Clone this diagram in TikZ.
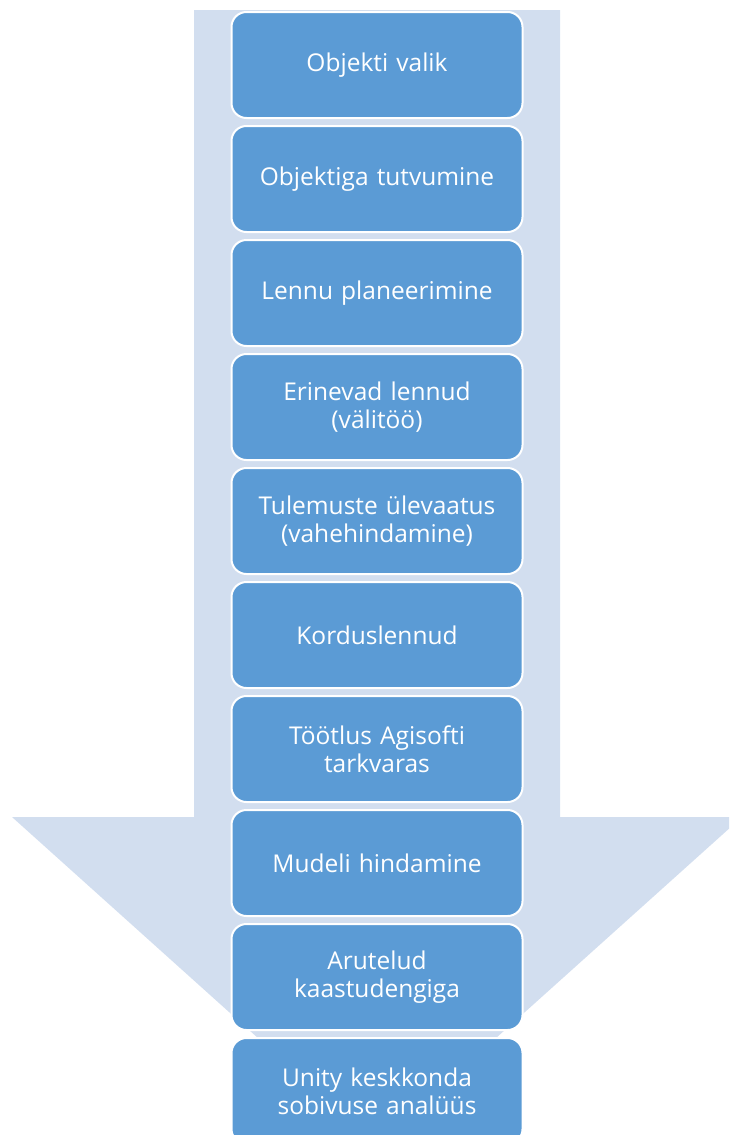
\documentclass[tikz,border=0pt]{standalone}
\usepackage{fontspec}
\setmainfont{Open Sans}
\usepackage{xcolor}
\usepackage{tikz}
\usetikzlibrary{positioning}

\definecolor{stageblue}{RGB}{91,155,213}
\definecolor{arrowblue}{RGB}{210,222,239}

\begin{document}
\begin{tikzpicture}[
    x=1pt, y=1pt,
    stage/.style={rectangle, rounded corners=15pt, draw=white, line width=2pt, fill=stageblue,
        minimum width=291pt, minimum height=106pt, text width=280pt, align=center,
        text=white, font=\fontsize{24.5}{28}\selectfont},
    flow/.style={fill=arrowblue, draw=none}
]
    \useasboundingbox (0,0) rectangle (729,-1135);
    \clip (0,0) rectangle (729,-1135);

    % Background arrow
    \draw[flow] (194,-10) -- (560,-10) -- (560,-817) -- (742,-817) -- (377,-1145)
        -- (12,-817) -- (194,-817) -- cycle;

    % Stages
    \node[stage] (s1) at (377,-65) {Objekti valik};
    \node[stage, below=6pt of s1] (s2) {Objektiga tutvumine};
    \node[stage, below=6pt of s2] (s3) {Lennu planeerimine};
    \node[stage, below=6pt of s3] (s4) {Erinevad lennud\\(välitöö)};
    \node[stage, below=6pt of s4] (s5) {Tulemuste ülevaatus\\(vahehindamine)};
    \node[stage, below=6pt of s5] (s6) {Korduslennud};
    \node[stage, below=6pt of s6] (s7) {Töötlus Agisofti\\tarkvaras};
    \node[stage, below=6pt of s7] (s8) {Mudeli hindamine};
    \node[stage, below=6pt of s8] (s9) {Arutelud\\kaastudengiga};
    \node[stage, below=6pt of s9] (s10) {Unity keskkonda\\sobivuse analüüs};
\end{tikzpicture}
\end{document}
